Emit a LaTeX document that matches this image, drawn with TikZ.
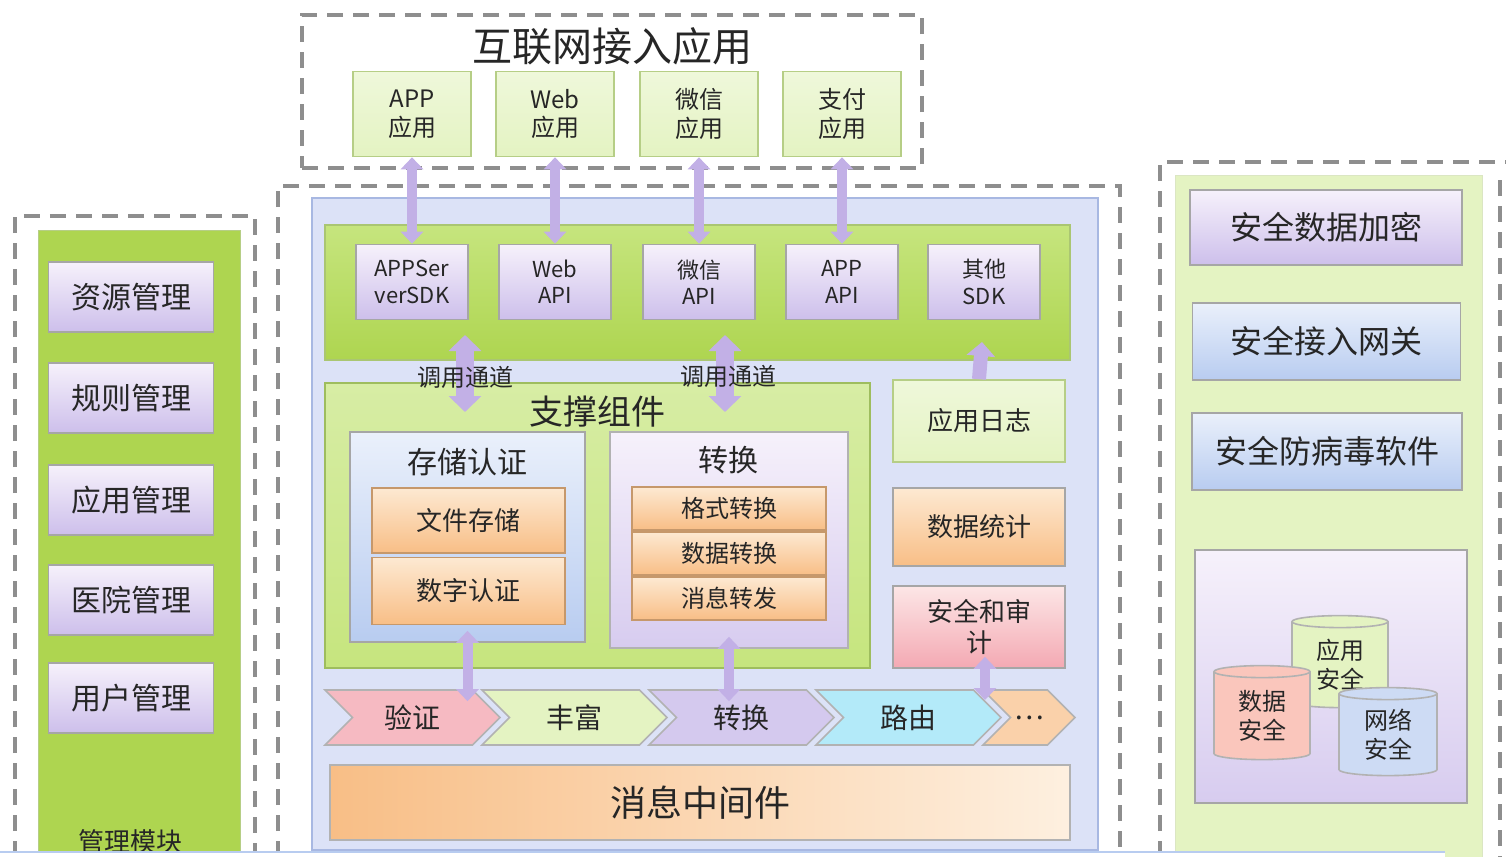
\documentclass[tikz,border=0pt]{standalone}
\usepackage{fontspec}
\setmainfont{Noto Sans CJK SC}
\usetikzlibrary{shapes.symbols,shapes.geometric,arrows.meta}
\definecolor{txt}{HTML}{262626}
\definecolor{dashc}{HTML}{8E8E8E}
\definecolor{arrc}{HTML}{C2B0E6}
\definecolor{panelc}{HTML}{DCE2F7}
\definecolor{panelb}{HTML}{A8B8E2}
\definecolor{greenA}{HTML}{AED550}
\definecolor{greenB}{HTML}{C6E57E}
\definecolor{greenL}{HTML}{E4F3C2}
\definecolor{greenD}{HTML}{86AD36}
\definecolor{lavT}{HTML}{F6F1FB}
\definecolor{lavB}{HTML}{CDBFEB}
\definecolor{orT}{HTML}{FDE9D2}
\definecolor{orB}{HTML}{F8BE86}
\definecolor{blT}{HTML}{EAF0FB}
\definecolor{blB}{HTML}{B8CCF0}
\definecolor{pkT}{HTML}{FCE6E6}
\definecolor{pkB}{HTML}{F4A9B3}
\newcommand\myfs[1]{\fontsize{#1}{\fpeval{1.2*#1}}\selectfont}
\tikzset{
  sz/.style n args={2}{minimum width=#1*0.5pt, minimum height=#2*0.5pt, inner sep=1pt},
  dashline/.style={draw=dashc, line width=2pt, dash pattern=on 8pt off 5pt},
  fs/.style={font=\myfs{#1}},
  lbl/.style={text=txt, align=center},
  gbox/.style={lbl, draw=greenD!60, line width=0.8pt, top color=greenL!60, bottom color=greenL},
  lavbox/.style={lbl, draw=gray!70, line width=0.8pt, top color=lavT, bottom color=lavB},
  orbox/.style={lbl, draw=orB!80!black, line width=0.6pt, top color=orT, bottom color=orB},
  blbox/.style={lbl, draw=gray!70, line width=0.8pt, top color=blT, bottom color=blB},
  pkbox/.style={lbl, draw=gray!70, line width=0.8pt, top color=pkT, bottom color=pkB},
  fatarrow/.style={draw=arrc, line width=5pt, {Triangle[width=11pt,length=6pt]}-{Triangle[width=11pt,length=6pt]}},
  bigarrow/.style={draw=arrc, line width=9pt, {Triangle[width=16pt,length=8pt]}-{Triangle[width=16pt,length=8pt]}},
  uparrow/.style={draw=arrc, line width=7pt, -{Triangle[width=14pt,length=7pt]}},
  chev/.style={lbl, signal, signal from=west, signal to=east, draw=gray!60, line width=0.8pt, inner sep=0pt},
  cyl/.style={lbl, cylinder, shape border rotate=90, aspect=0.25, draw=gray!60, line width=0.8pt, inner sep=0pt}
}
\begin{document}
\begin{tikzpicture}[x=0.5pt, y=-0.5pt]
\useasboundingbox (0,0) rectangle (1506,857);
\fill[white] (0,0) rectangle (1506,857);

% ---------------- top: internet apps ----------------
\node[dashline, sz={620}{153}] (topbox) at (612,91.5) {};
\node[lbl, fs=20] (toptitle) at (612,46) {互联网接入应用};
\node[gbox, fs=12, sz={118}{85}] (tapp) at (412,114) {APP\\应用};
\node[gbox, fs=12, sz={118}{85}] (tweb) at (555,114) {Web\\应用};
\node[gbox, fs=12, sz={118}{85}] (twx) at (699,114) {微信\\应用};
\node[gbox, fs=12, sz={118}{85}] (tpay) at (842,114) {支付\\应用};

% ---------------- main box ----------------
\draw[dashline] (278,857) -- (278,186) -- (1120,186) -- (1120,857);
\node[draw=panelb, line width=1pt, fill=panelc, sz={786}{652}] (panel) at (705,524) {};
\node[draw=greenD!70, line width=0.8pt, top color=greenB, bottom color=greenA, sz={745}{135}] (band) at (697.5,292.5) {};

\node[lavbox, fs=11, sz={112}{75}] (asdk) at (412,282) {APPSer\\verSDK};
\node[lavbox, fs=11, sz={112}{75}] (aweb) at (555,282) {Web\\API};
\node[lavbox, fs=11, sz={112}{75}] (awx) at (699,282) {微信\\API};
\node[lavbox, fs=11, sz={112}{75}] (aapp) at (842,282) {APP\\API};
\node[lavbox, fs=11, sz={112}{75}] (aoth) at (984,282) {其他\\SDK};

\draw[fatarrow] (tapp.south) -- (asdk.north);
\draw[fatarrow] (tweb.south) -- (aweb.north);
\draw[fatarrow] (twx.south) -- (awx.north);
\draw[fatarrow] (tpay.south) -- (aapp.north);

% support components
\node[draw=greenD!80, line width=1pt, top color=greenB!70!white, bottom color=greenB, sz={545}{285}] (support) at (597.5,525.5) {};
\node[lbl, fs=17] (supttl) at (597,412) {支撑组件};

\node[blbox, sz={235}{210}] (store) at (467.5,537) {};
\node[lbl, fs=15] (storettl) at (467,462) {存储认证};
\node[orbox, fs=13, sz={193}{65}] (fstore) at (468.5,520.5) {文件存储};
\node[orbox, fs=13, sz={193}{67}] (dcert) at (468.5,591) {数字认证};

\node[lavbox, draw=gray!60, top color=lavT, bottom color=lavB!80, sz={238}{216}] (conv) at (729,540) {};
\node[lbl, fs=15] (convttl) at (728,460) {转换};
\node[orbox, fs=12, sz={194}{43}] (fmt) at (729,508.5) {格式转换};
\node[orbox, fs=12, sz={194}{43}] (dat) at (729,553.5) {数据转换};
\node[orbox, fs=12, sz={194}{43}] (msg) at (729,598.5) {消息转发};

% right column
\node[gbox, fs=13, sz={172}{82}] (log) at (979,421) {应用日志};
\node[orbox, draw=gray!70, fs=13, sz={172}{78}] (stat) at (979,527) {数据统计};
\node[pkbox, fs=13, sz={172}{82}] (sec) at (979,627) {安全和审\\计};

% call channels
\coordinate (c1a) at (465,335);
\coordinate (c1b) at (465,412);
\coordinate (c2a) at (725,335);
\coordinate (c2b) at (725,412);
\draw[bigarrow] (c1a) -- (c1b);
\draw[bigarrow] (c2a) -- (c2b);
\node[lbl, fs=12] (call1) at (465,377) {调用通道};
\node[lbl, fs=12] (call2) at (728,376) {调用通道};
\coordinate (c3a) at (982,342);
\draw[uparrow] (log.north) -- (c3a);

% pipeline
\node[chev, fill=pkB!80, fs=14, sz={175}{55}] (p1) at (412.5,717.5) {验证};
\node[chev, fill=greenL, fs=14, sz={185}{55}] (p2) at (574.5,717.5) {丰富};
\node[chev, fill=lavB!85, fs=14, sz={185}{55}] (p3) at (741.5,717.5) {转换};
\node[chev, fill=blB!70!cyan!60!white, fs=14, sz={185}{55}] (p4) at (908.5,717.5) {路由};
\node[chev, fill=orB!70, fs=14, sz={92}{55}] (p5) at (1029,717.5) {…};

\draw[fatarrow] ([yshift=6pt]store.south) -- ([yshift=-6pt]p1.north -| store.south);
\draw[fatarrow] ([yshift=6pt]conv.south) -- ([yshift=-6pt]p3.north -| conv.south);
\coordinate (c4) at (985,700);
\draw[fatarrow] ([yshift=6pt,xshift=3pt]sec.south) -- (c4);

\node[lbl, draw=gray!60, line width=0.8pt, left color=orB, right color=orT!70!white, fs=18, sz={740}{75}] (mq) at (700,802.5) {消息中间件};

% ---------------- left: management ----------------
\draw[dashline] (15,857) -- (15,216) -- (255,216) -- (255,857);
\node[draw=greenD!60, fill=greenA, sz={202}{640}] (lpanel) at (139,550) {};
\node[lavbox, fs=15, sz={165}{70}] (m1) at (131,297) {资源管理};
\node[lavbox, fs=15, sz={165}{70}] (m2) at (131,398) {规则管理};
\node[lavbox, fs=15, sz={165}{70}] (m3) at (131,500) {应用管理};
\node[lavbox, fs=15, sz={165}{70}] (m4) at (131,600) {医院管理};
\node[lavbox, fs=15, sz={165}{70}] (m5) at (131,698) {用户管理};
\node[lbl, fs=13] (mttl) at (130,842) {管理模块};

% ---------------- right: security ----------------
\draw[dashline] (1160,857) -- (1160,162) -- (1506,162);
\draw[dashline] (1500,180) -- (1500,857);
\node[fill=greenL, draw=greenD!30, sz={307}{690}] (rpanel) at (1328.5,520) {};
\node[lavbox, fs=16, sz={272}{75}] (s1) at (1326,227.5) {安全数据加密};
\node[blbox, fs=16, sz={268}{77}] (s2) at (1326.5,341.5) {安全接入网关};
\node[blbox, fs=16, sz={270}{77}] (s3) at (1327,451.5) {安全防病毒软件};
\node[draw=gray!70, line width=0.8pt, top color=lavT, bottom color=lavB!80, sz={272}{253}] (sbox) at (1331,676.5) {};
\node[cyl, fill=greenL, fs=12, minimum width=48pt, minimum height=46pt] (cy1) at (1340,665) {应用\\安全};
\node[cyl, fill=pkB!80!orange!60!white, fs=12, minimum width=48pt, minimum height=47pt] (cy2) at (1262,716) {数据\\安全};
\node[cyl, fill=blB!70!white, fs=12, minimum width=49pt, minimum height=44pt] (cy3) at (1388,735) {网络\\安全};

% bottom screenshot bar
\fill[white] (0,852) rectangle (1445,857);
\draw[blB, line width=1pt] (0,852) -- (1445,852);
\end{tikzpicture}
\end{document}
